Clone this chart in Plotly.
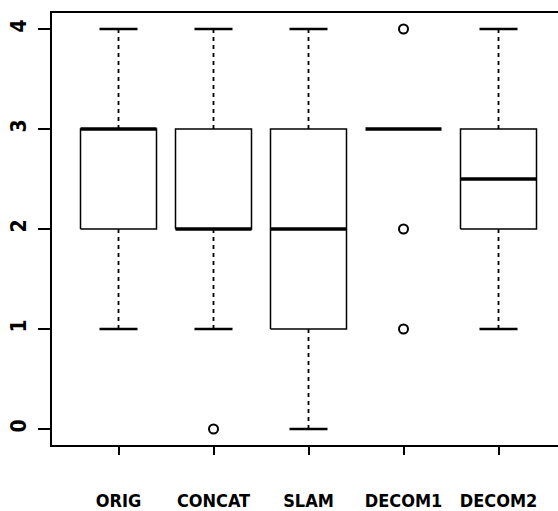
import plotly.graph_objects as go

categories = ["ORIG", "CONCAT", "SLAM", "DECOM1", "DECOM2"]
lower_whisker = [1, 1, 0, 3, 1]
q1 = [2, 2, 1, 3, 2]
median = [3, 2, 2, 3, 2.5]
q3 = [3, 3, 3, 3, 3]
upper_whisker = [4, 4, 4, 3, 4]
outliers = [[], [0], [], [4, 2, 1], []]
y_ticks = [0, 1, 2, 3, 4]

BOX_HALF = 0.4
STAPLE_HALF = 0.2
FONT = "DejaVu Sans Condensed, Liberation Sans Narrow, sans-serif"

pos = list(range(1, len(categories) + 1))

box_x, box_y = [], []
med_x, med_y = [], []
wh_x, wh_y = [], []
st_x, st_y = [], []
out_x, out_y = [], []
for i, p in enumerate(pos):
    if q3[i] > q1[i]:
        box_x += [p - BOX_HALF, p + BOX_HALF, p + BOX_HALF, p - BOX_HALF, p - BOX_HALF, None]
        box_y += [q1[i], q1[i], q3[i], q3[i], q1[i], None]
    med_x += [p - BOX_HALF, p + BOX_HALF, None]
    med_y += [median[i], median[i], None]
    if lower_whisker[i] < q1[i]:
        wh_x += [p, p, None]
        wh_y += [lower_whisker[i], q1[i], None]
        st_x += [p - STAPLE_HALF, p + STAPLE_HALF, None]
        st_y += [lower_whisker[i], lower_whisker[i], None]
    if upper_whisker[i] > q3[i]:
        wh_x += [p, p, None]
        wh_y += [q3[i], upper_whisker[i], None]
        st_x += [p - STAPLE_HALF, p + STAPLE_HALF, None]
        st_y += [upper_whisker[i], upper_whisker[i], None]
    for o in outliers[i]:
        out_x.append(p)
        out_y.append(o)

fig = go.Figure()
fig.add_trace(go.Scatter(x=wh_x, y=wh_y, mode="lines",
                         line=dict(color="black", width=1.8, dash="4px,4px")))
fig.add_trace(go.Scatter(x=box_x, y=box_y, mode="lines",
                         line=dict(color="black", width=1.5)))
fig.add_trace(go.Scatter(x=st_x, y=st_y, mode="lines",
                         line=dict(color="black", width=2.5)))
fig.add_trace(go.Scatter(x=med_x, y=med_y, mode="lines",
                         line=dict(color="black", width=3.5)))
fig.add_trace(go.Scatter(x=out_x, y=out_y, mode="markers",
                         marker=dict(symbol="circle-open", size=9, color="black",
                                     line=dict(width=2, color="black"))))

fig.update_layout(
    width=558, height=511,
    margin=dict(l=52, r=0, t=13, b=56),
    paper_bgcolor="white", plot_bgcolor="white",
    showlegend=False,
    xaxis=dict(
        range=[0.3, 0.3 + 506 / 95],
        tickmode="array", tickvals=pos, ticktext=categories,
        showgrid=False, zeroline=False,
        showline=True, mirror=True, linecolor="black", linewidth=1.5,
        ticks="outside", ticklen=8, tickwidth=1.5, tickcolor="black",
        ticklabelstandoff=31,
        tickfont=dict(family=FONT, size=18, color="black", weight="bold"),
    ),
    yaxis=dict(
        range=[-0.16, 4.16],
        tickmode="array", tickvals=y_ticks, ticktext=[str(v) for v in y_ticks],
        showgrid=False, zeroline=False,
        showline=True, mirror=False, linecolor="black", linewidth=1.5,
        ticks="outside", ticklen=12, tickwidth=1.5, tickcolor="black",
        tickangle=-90, ticklabelstandoff=4,
        tickfont=dict(family=FONT, size=21, color="black", weight="bold"),
    ),
)

fig.write_html("out.html")
